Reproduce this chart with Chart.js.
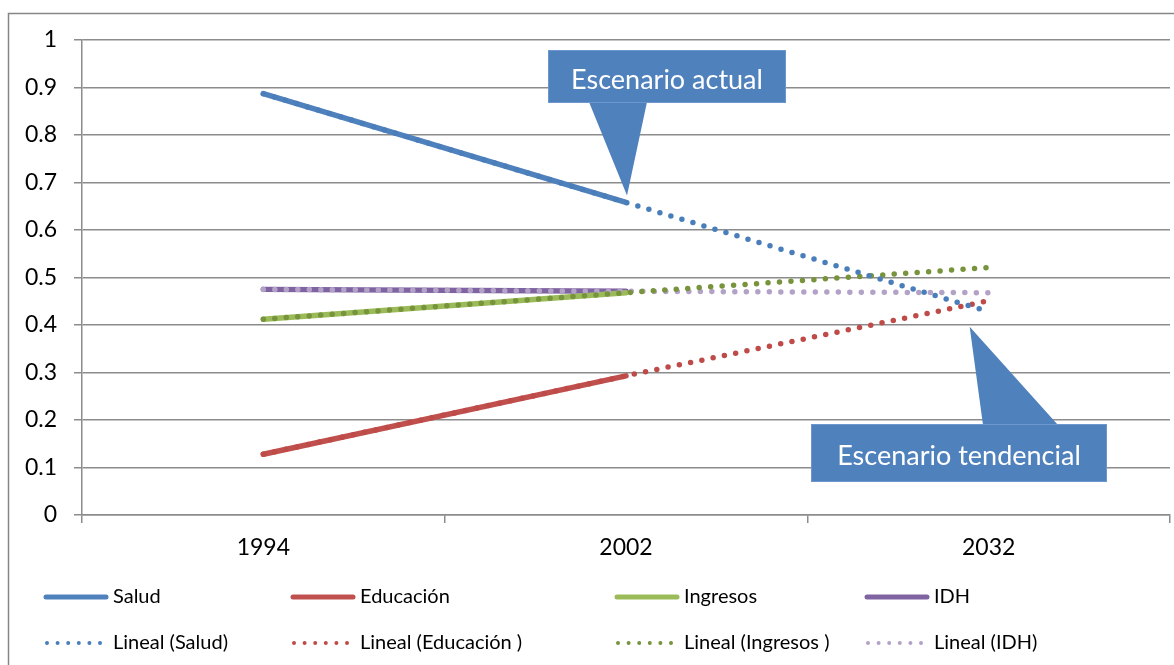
<!DOCTYPE html>
<html>
<head>
<meta charset="utf-8">
<script src="https://cdn.jsdelivr.net/npm/chart.js@4/dist/chart.umd.min.js"></script>
<style>
  body { margin: 0; background: #fff; }
  #wrap { position: relative; width: 1174px; height: 665px; }
</style>
</head>
<body>
<div id="wrap"><canvas id="idhChart"></canvas></div>
<script>
// Data
const years = ['1994', '2002', '2032'];
const salud = [0.887, 0.658, null];
const educacion = [0.128, 0.293, null];
const ingresos = [0.412, 0.468, null];
const idh = [0.475, 0.471, null];
// linear trendlines (Excel "Lineal"), projected to 2032
const tendSalud = [0.887, 0.658, 0.428];
const tendEducacion = [0.128, 0.293, 0.451];
const tendIngresos = [0.412, 0.468, 0.521];
const tendIdh = [0.475, 0.471, 0.468];
const yTicks = [0, 0.1, 0.2, 0.3, 0.4, 0.5, 0.6, 0.7, 0.8, 0.9, 1];

const FONT = 'Lato, "Open Sans", sans-serif';
const GRID = '#8c8c8c';

function solid(label, data, color) {
  return {
    label: label, data: data, borderColor: color, backgroundColor: color,
    borderWidth: 5.5, pointRadius: 0, borderCapStyle: 'round', tension: 0,
    spanGaps: false, order: 2
  };
}
function dotted(label, data, color) {
  return {
    label: label, data: data, borderColor: color, backgroundColor: color,
    borderWidth: 5.5, pointRadius: 0, borderCapStyle: 'round',
    borderDash: [0, 11.5], tension: 0, order: 1
  };
}

const datasets = [
  solid('Salud', salud, '#4F81BD'),
  solid('Educación', educacion, '#C0504D'),
  solid('Ingresos', ingresos, '#9BBB59'),
  solid('IDH', idh, '#8064A2'),
  dotted('Lineal (Salud)', tendSalud, '#4A7EBB'),
  dotted('Lineal (Educación )', tendEducacion, '#BE4B48'),
  dotted('Lineal (Ingresos )', tendIngresos, '#77933C'),
  dotted('Lineal (IDH)', tendIdh, '#B3A2C7')
];

// legend drawn in the Excel grid layout
const legendCols = [45, 292, 616, 866];
const legendRows = [597, 643];

const decorPlugin = {
  id: 'decor',
  beforeDraw(chart) {
    const ctx = chart.ctx;
    ctx.save();
    ctx.strokeStyle = '#868686';
    ctx.lineWidth = 1.5;
    ctx.strokeRect(8.5, 13.5, 1200, 700);
    ctx.restore();
  },
  afterDraw(chart) {
    const ctx = chart.ctx;
    const x = chart.scales.x, y = chart.scales.y;
    ctx.save();

    // legend
    ctx.font = '20px ' + FONT;
    ctx.textBaseline = 'middle';
    chart.data.datasets.forEach((ds, i) => {
      const lx = legendCols[i % 4];
      const ly = legendRows[Math.floor(i / 4)];
      ctx.strokeStyle = ds.borderColor;
      ctx.lineCap = 'round';
      if (ds.borderDash) {
        ctx.lineWidth = 4;
        ctx.setLineDash([0, 10.6]);
        ctx.beginPath(); ctx.moveTo(lx + 2, ly); ctx.lineTo(lx + 56, ly); ctx.stroke();
      } else {
        ctx.lineWidth = 5;
        ctx.setLineDash([]);
        ctx.beginPath(); ctx.moveTo(lx + 1, ly); ctx.lineTo(lx + 61, ly); ctx.stroke();
      }
      ctx.setLineDash([]);
      ctx.fillStyle = '#000';
      ctx.textAlign = 'left';
      ctx.fillText(ds.label, lx + 68, ly);
    });

    // callout "Escenario actual" pointing at Salud 2002
    const tip1x = x.getPixelForValue(1) + 1;
    const tip1y = y.getPixelForValue(salud[1]) - 7;
    drawCallout(ctx, 548, 50, 238, 53, [589, 647], tip1x, tip1y, 'Escenario actual', 4);

    // callout "Escenario tendencial" pointing at the 2032 projection
    const tip2x = x.getPixelForValue(2) - 19;
    const tip2y = y.getPixelForValue(tendSalud[2]) + 15;
    drawCallout(ctx, 811, 424, 296, 58, [983, 1058], tip2x, tip2y, 'Escenario tendencial', 3);

    ctx.restore();
  }
};

function drawCallout(ctx, bx, by, bw, bh, base, tx, ty, text, dy) {
  const pointsUp = ty < by;
  const baseY = pointsUp ? by + 1 : by + bh - 1;
  ctx.fillStyle = '#4F81BD';
  ctx.beginPath();
  ctx.moveTo(base[0], baseY);
  ctx.lineTo(tx, ty);
  ctx.lineTo(base[1], baseY);
  ctx.closePath();
  ctx.fill();
  ctx.fillRect(bx, by, bw, bh);
  ctx.strokeStyle = '#6d97cc';
  ctx.lineWidth = 1;
  ctx.strokeRect(bx + 0.5, by + 0.5, bw - 1, bh - 1);
  ctx.fillStyle = '#fff';
  ctx.font = '27px ' + FONT;
  ctx.textAlign = 'center';
  ctx.textBaseline = 'middle';
  ctx.fillText(text, bx + bw / 2, by + bh / 2 + dy);
}

new Chart(document.getElementById('idhChart'), {
  type: 'line',
  data: { labels: years, datasets: datasets },
  options: {
    responsive: true,
    maintainAspectRatio: false,
    animation: false,
    layout: { padding: { top: 40, right: 4, bottom: 0, left: 0 } },
    plugins: { legend: { display: false }, tooltip: { enabled: false } },
    scales: {
      x: {
        type: 'category',
        offset: true,
        afterFit(scale) { scale.height = 150; },
        grid: { display: true, drawOnChartArea: false, drawTicks: true, tickLength: 8, offset: true, color: GRID, lineWidth: 1.5 },
        border: { display: true, color: GRID, width: 1.5 },
        ticks: { color: '#000', font: { family: FONT, size: 23 }, padding: 11, maxRotation: 0 }
      },
      y: {
        min: 0, max: 1,
        afterFit(scale) { scale.width = 82; },
        afterBuildTicks(scale) { scale.ticks = yTicks.map(v => ({ value: v })); },
        grid: { color: GRID, lineWidth: 1.5, tickLength: 8 },
        border: { display: true, color: GRID, width: 1.5 },
        ticks: {
          color: '#000', font: { family: FONT, size: 23 }, padding: 17,
          callback: v => String(+v.toFixed(1))
        }
      }
    }
  },
  plugins: [decorPlugin]
});
</script>
</body>
</html>
